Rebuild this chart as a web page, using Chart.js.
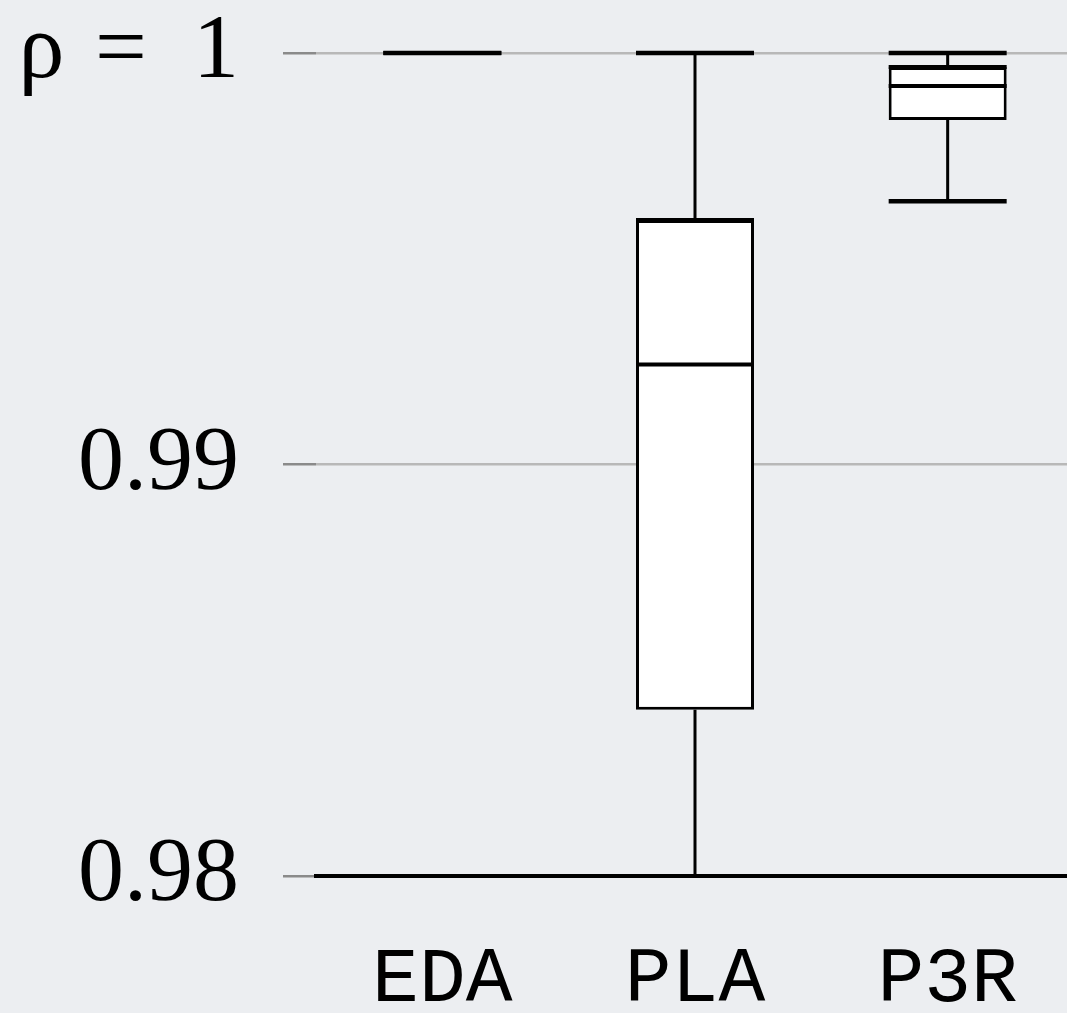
<!DOCTYPE html>
<html>
<head>
<meta charset="utf-8">
<script src="https://cdn.jsdelivr.net/npm/chart.js@4.4.1/dist/chart.umd.min.js"></script>
<style>
    html, body { margin: 0; padding: 0; background: #eceef1; overflow: hidden; }
    canvas { display: block; }
</style>
</head>
<body>
<canvas id="chart" width="1074" height="1013"></canvas>
<script>
// ------------------------------------------------------------
// Box plot data
// ------------------------------------------------------------
const categories = ['EDA', 'PLA', 'P3R'];
const whiskerMin = [1.0, 0.9750, 0.99640];
const quartile1  = [1.0, 0.98404, 0.99837];
const medians    = [1.0, 0.99243, 0.99920];
const quartile3  = [1.0, 0.99594, 0.99966];
const whiskerMax = [1.0, 1.0, 1.0];

const yTicks = [0.98, 0.99, 1.0];
const yTickLabels = ['0.98', '0.99', 'ρ\u2004=\u20021'];

// Whiskers, caps and medians drawn on top of the floating bars
const boxPlotPlugin = {
    id: 'boxPlot',
    afterDatasetsDraw(chart) {
        const ctx = chart.ctx;
        const y = chart.scales.y;
        const area = chart.chartArea;
        const meta = chart.getDatasetMeta(0);
        const clampY = v => Math.min(Math.max(y.getPixelForValue(v), area.top), area.bottom);

        ctx.save();
        ctx.strokeStyle = '#000';
        ctx.lineCap = 'butt';
        meta.data.forEach((bar, i) => {
            const cx = bar.x;
            const half = bar.width / 2;

            // whiskers
            ctx.lineWidth = 3;
            ctx.beginPath();
            ctx.moveTo(cx, clampY(quartile3[i]));
            ctx.lineTo(cx, clampY(whiskerMax[i]));
            ctx.moveTo(cx, clampY(quartile1[i]));
            ctx.lineTo(cx, clampY(whiskerMin[i]));
            ctx.stroke();

            // caps (only when inside the axis range)
            ctx.lineWidth = 4.5;
            ctx.beginPath();
            [whiskerMax[i], whiskerMin[i]].forEach(v => {
                if (v >= y.min && v <= y.max) {
                    const py = y.getPixelForValue(v);
                    ctx.moveTo(cx - half, py);
                    ctx.lineTo(cx + half, py);
                }
            });
            ctx.stroke();

            // median and heavier box top
            ctx.lineWidth = 4;
            ctx.beginPath();
            const pm = y.getPixelForValue(medians[i]);
            ctx.moveTo(cx - half, pm);
            ctx.lineTo(cx + half, pm);
            const pt = y.getPixelForValue(quartile3[i]);
            ctx.moveTo(cx - half, pt);
            ctx.lineTo(cx + half, pt);
            ctx.stroke();
        });
        ctx.restore();
    }
};

const ctx = document.getElementById('chart').getContext('2d');
new Chart(ctx, {
    type: 'bar',
    data: {
        labels: categories,
        datasets: [{
            data: categories.map((c, i) => [quartile1[i], quartile3[i]]),
            backgroundColor: '#ffffff',
            borderColor: '#000000',
            borderWidth: 3,
            borderSkipped: false,
            barPercentage: 0.467,
            categoryPercentage: 1.0
        }]
    },
    options: {
        responsive: false,
        animation: false,
        layout: { padding: { top: 53, right: 0, bottom: 0, left: 0 } },
        plugins: {
            legend: { display: false },
            tooltip: { enabled: false }
        },
        scales: {
            x: {
                offset: true,
                grid: { display: false },
                border: { display: true, color: '#000', width: 4 },
                ticks: {
                    color: '#000',
                    padding: 50,
                    font: { family: "'Liberation Mono', monospace", size: 78 }
                },
                afterFit: (scale) => {
                    scale.height = 137;
                    scale.paddingLeft = 0;
                    scale.paddingRight = 0;
                }
            },
            y: {
                min: 0.98,
                max: 1.0,
                afterBuildTicks: (scale) => { scale.ticks = yTicks.map(v => ({ value: v })); },
                grid: { color: '#b8b8b8', lineWidth: 2.5, tickLength: 33, tickColor: '#8a8a8a' },
                border: { display: false },
                ticks: {
                    color: '#000',
                    padding: 44,
                    font: { family: "'Liberation Serif', serif", size: 92 },
                    callback: (v) => yTickLabels[yTicks.indexOf(v)] ?? ''
                },
                afterFit: (scale) => {
                    scale.width = 316;
                    scale.paddingTop = 0;
                    scale.paddingBottom = 0;
                }
            }
        }
    },
    plugins: [boxPlotPlugin]
});
</script>
</body>
</html>
